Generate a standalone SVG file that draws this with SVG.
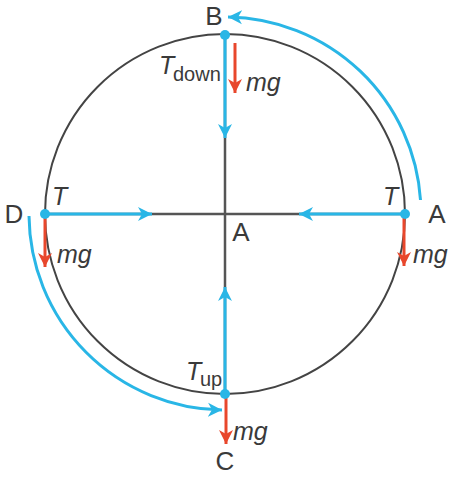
<svg xmlns="http://www.w3.org/2000/svg" width="458" height="480" viewBox="0 0 458 480">
<style>
.g{stroke:#555;stroke-width:2.5;fill:none}
.c{stroke:#444;stroke-width:2;fill:none}
.b{stroke:#29b6e6;stroke-width:3;fill:none}
.r{stroke:#e8472c;stroke-width:3;fill:none}
.dot{fill:#29b6e6}
text{font-family:"Liberation Sans",Arial,sans-serif;fill:#3a3a3a;font-size:26px}
.it{font-style:italic;font-size:25px}
.sub{font-size:20px}
</style>
<defs>
<marker id="ab" markerUnits="userSpaceOnUse" markerWidth="16" markerHeight="16" refX="14" refY="7" orient="auto" viewBox="0 0 16 14">
<path d="M0,0 L14,7 L0,14 L4,7 z" fill="#29b6e6"/>
</marker>
<marker id="ar" markerUnits="userSpaceOnUse" markerWidth="16" markerHeight="16" refX="14" refY="7" orient="auto" viewBox="0 0 16 14">
<path d="M0,0 L14,7 L0,14 L4,7 z" fill="#e8472c"/>
</marker>
</defs>
<g id="circle"><circle class="c" cx="225" cy="214" r="180"/></g>
<g id="connectors">
<line class="g" x1="45" y1="214" x2="405" y2="214"/>
<line class="g" x1="225" y1="35" x2="225" y2="394"/>
<line class="b" x1="45" y1="214" x2="152" y2="214" marker-end="url(#ab)"/>
<line class="b" x1="405" y1="214" x2="299" y2="214" marker-end="url(#ab)"/>
<line class="b" x1="225" y1="35" x2="225" y2="138" marker-end="url(#ab)"/>
<line class="b" x1="225" y1="394" x2="225" y2="287" marker-end="url(#ab)"/>
<path class="b" d="M420.5,200 A196,196 0 0 0 228,17" marker-end="url(#ab)"/>
<path class="b" d="M29,216 A196,196 0 0 0 222,410" marker-end="url(#ab)"/>
<line class="r" x1="235" y1="43" x2="235" y2="93" marker-end="url(#ar)"/>
<line class="r" x1="45" y1="218" x2="45" y2="267" marker-end="url(#ar)"/>
<line class="r" x1="404" y1="218" x2="404" y2="266" marker-end="url(#ar)"/>
<line class="r" x1="226" y1="398" x2="226" y2="444" marker-end="url(#ar)"/>
</g>
<g id="B"><circle class="dot" cx="225" cy="35" r="5"/><text x="214" y="25" text-anchor="middle">B</text></g>
<g id="D"><circle class="dot" cx="45" cy="214" r="5"/><text x="14" y="223" text-anchor="middle">D</text></g>
<g id="Aright"><circle class="dot" cx="405" cy="214" r="5"/><text x="437" y="223" text-anchor="middle">A</text></g>
<g id="C"><circle class="dot" cx="225" cy="394" r="5"/><text x="225" y="470" text-anchor="middle">C</text></g>
<g id="Acenter"><text x="241" y="241" text-anchor="middle">A</text></g>
<g id="labels">
<text class="it" x="159" y="74">T</text><text class="sub" x="173" y="81">down</text>
<text class="it" x="246" y="91">mg</text>
<text class="it" x="52" y="205">T</text>
<text class="it" x="57" y="263">mg</text>
<text class="it" x="383" y="205">T</text>
<text class="it" x="413" y="263">mg</text>
<text class="it" x="186" y="380">T</text><text class="sub" x="200" y="386">up</text>
<text class="it" x="233" y="440">mg</text>
</g>
</svg>
